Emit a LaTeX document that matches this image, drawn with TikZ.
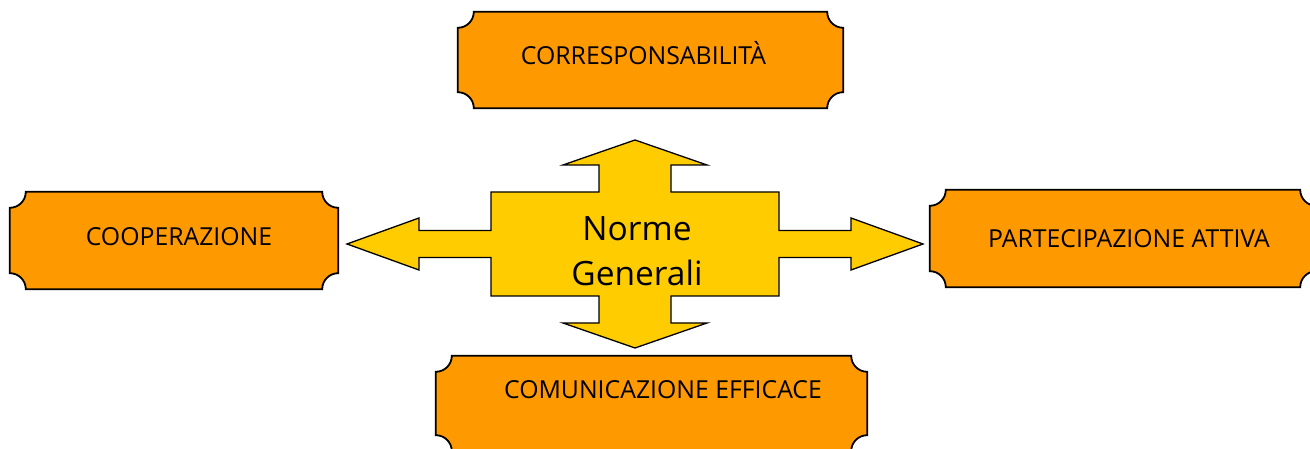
\documentclass[tikz,border=0pt]{standalone}
\usepackage{fontspec}
\setmainfont{Open Sans}
\usepackage{tikz}
\usetikzlibrary{calc}
\usetikzlibrary{positioning}
\definecolor{plaqueorange}{RGB}{255,153,0}
\definecolor{hubyellow}{RGB}{255,204,0}
\tikzstyle{plaque} = [rectangle, draw=none, inner sep=0pt, minimum height=96pt]
\tikzstyle{plaqueline} = [draw=black, line width=1.8pt, fill=plaqueorange]
\tikzstyle{plaquetext} = [anchor=base, inner sep=0pt, font=\fontsize{24.8}{30}\selectfont]
\tikzstyle{hubshape} = [draw=black, line width=1.3pt, fill=hubyellow, line join=miter]
\newcommand{\drawplaque}[1]{%
  \draw[plaqueline] ($(#1.north west)+(16,0)$) -- ($(#1.north east)+(-16,0)$)
    arc[start angle=180, end angle=270, radius=16]
    -- ($(#1.south east)+(0,16)$) arc[start angle=90, end angle=180, radius=16]
    -- ($(#1.south west)+(16,0)$) arc[start angle=0, end angle=90, radius=16]
    -- ($(#1.north west)+(0,-16)$) arc[start angle=270, end angle=360, radius=16]
    -- cycle;}

\begin{document}
\begin{tikzpicture}[x=1pt, y=1pt]
  \useasboundingbox (0,0) rectangle (1310,449);
  % the four plaques
  \node[plaque, minimum width=385pt] (corr) at (650.5,389) {};
  \node[plaque, minimum width=328pt, minimum height=97pt] (coop) at (174,208.5) {};
  \node[plaque, minimum width=386pt, minimum height=97pt] (part) at (1123,210.5) {};
  \node[plaque, minimum width=431pt, minimum height=95pt] (comu) at (651.5,45.5) {};
  \drawplaque{corr}
  \drawplaque{coop}
  \drawplaque{part}
  \drawplaque{comu}
  \node[plaquetext] (corrt) at ($(corr)+(-7,-5)$) {CORRESPONSABILITÀ};
  \node[plaquetext] (coopt) at ($(coop)+(5,-5.5)$) {COOPERAZIONE};
  \node[plaquetext] (partt) at ($(part)+(6,-9.5)$) {PARTECIPAZIONE ATTIVA};
  \node[plaquetext] (comut) at ($(comu)+(11.5,4.5)$) {COMUNICAZIONE EFFICACE};
  % central quad arrow
  \coordinate (hub) at (635,205);
  \draw[hubshape, shift={(hub)}]
    (288,0) -- (216,26) -- (216,13.5) -- (144,13.5) -- (144,52) -- (36,52)
    -- (36,79) -- (72,79) -- (0,104) -- (-72,79) -- (-36,79) -- (-36,52)
    -- (-144,52) -- (-144,13.5) -- (-216,13.5) -- (-216,26) -- (-288,0)
    -- (-216,-26) -- (-216,-13.5) -- (-144,-13.5) -- (-144,-52) -- (-36,-52)
    -- (-36,-79) -- (-72,-79) -- (0,-104) -- (72,-79) -- (36,-79) -- (36,-52)
    -- (144,-52) -- (144,-13.5) -- (216,-13.5) -- (216,-26) -- cycle;
  \node[align=center, inner sep=0pt, font=\fontsize{33.5}{45}\selectfont] (norme)
    at ($(hub)+(2,-7)$) {Norme\\Generali};
\end{tikzpicture}
\end{document}
